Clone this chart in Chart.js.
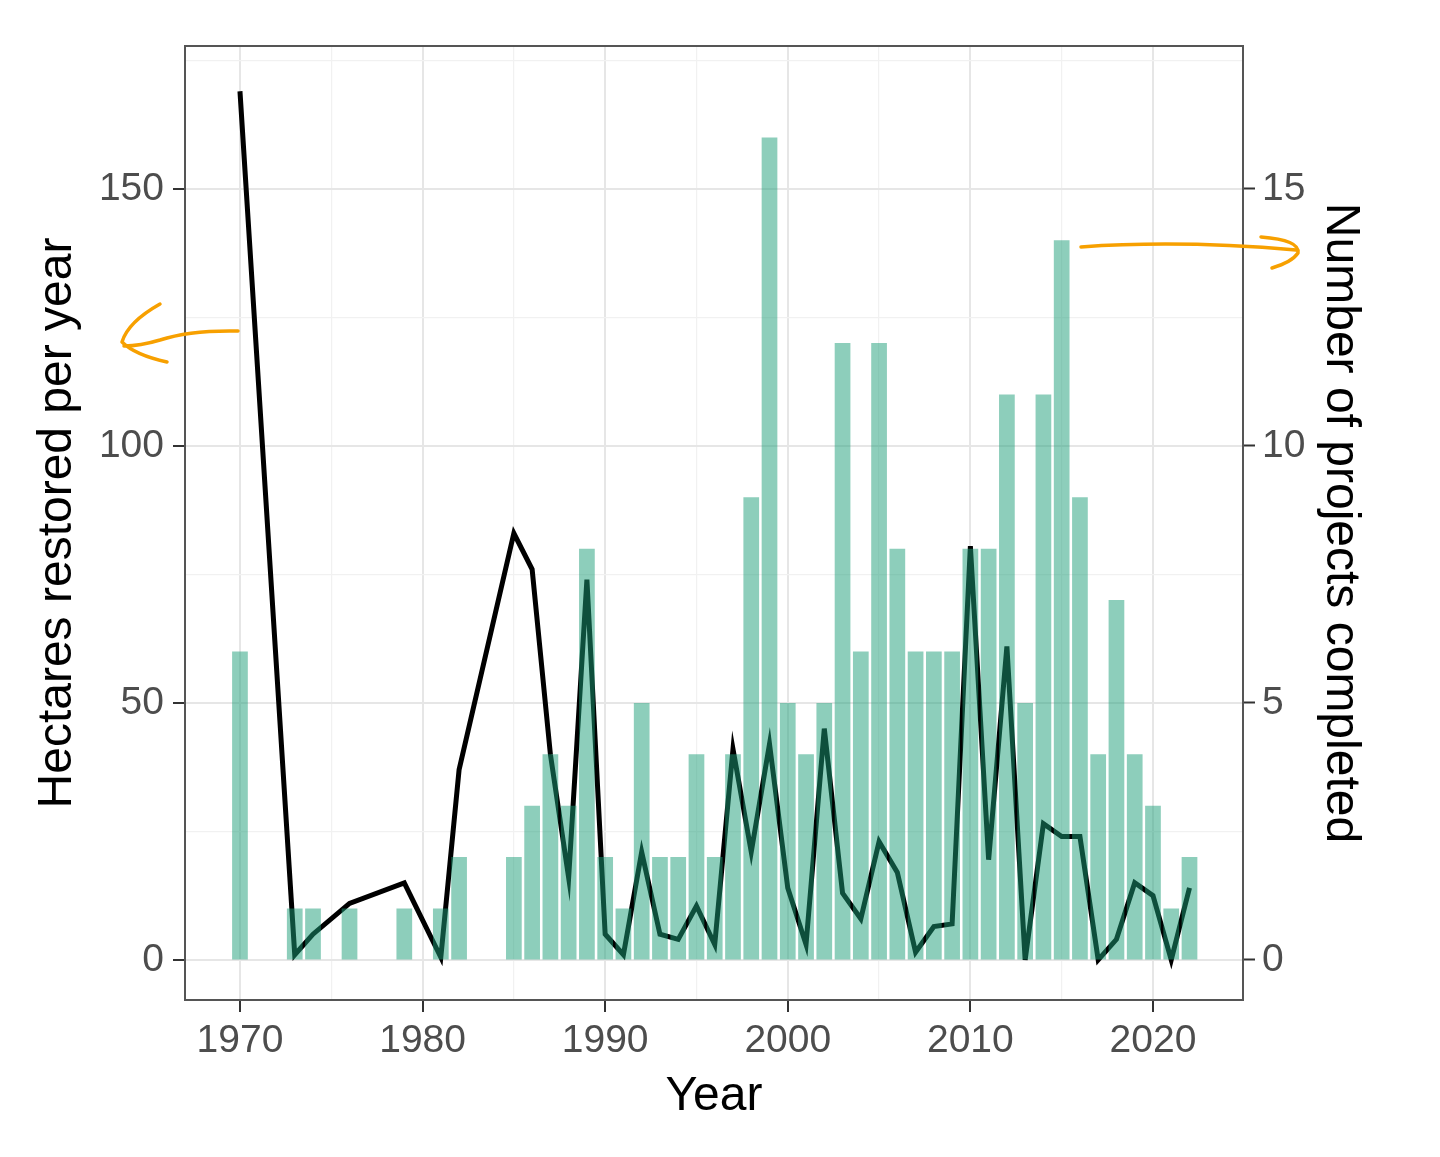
<!DOCTYPE html>
<html lang="en">
<head>
    <meta charset="UTF-8">
    <title>restoration by year</title>
    <style>
        body { margin: 0; background: #fff; }
        .chart_container { width: 1440px; height: 1157px; }
    </style>
</head>
<body>
    <div class="chart_container">
        <canvas class="restChart"></canvas>
    </div>

<script src="https://cdn.jsdelivr.net/npm/chart.js"></script>
<script>
    // one entry per year, 1970..2022
    const years = [];
    for (let y = 1970; y <= 2022; y++) years.push(y);

    // number of projects completed (right axis)
    const projects = [6,0,0,1,1,0,1,0,0,1, 0,1,2,0,0,2,3,4,3,8,
                      2,1,5,2,2,4,2,4,9,16, 5,4,5,12,6,12,8,6,6,6,
                      8,8,11,5,11,14,9,4,7,4, 3,1,2];

    // hectares restored per year (left axis), null = no value that year
    const hectares = [169,null,null,1,5,null,11,null,null,15, null,0.5,37,null,null,83,76,40,16,74,
                      5,1,21,5,4,10.5,3,41,21,42, 14,3,45,13,8,23,17,1.5,6.5,7,
                      80.5,19.5,61,0,26.5,24,24,0,4,15, 12.5,0,14];

    const xTicks = [1970,1975,1980,1985,1990,1995,2000,2005,2010,2015,2020];
    const leftTicks = [0,25,50,75,100,125,150,175];
    const rightTicks = [0,5,10,15];

    const barData = years.map((y, i) => ({x: y, y: projects[i]}));
    const lineData = years.map((y, i) => ({x: y, y: hectares[i]}));

    const tickFont = {family: 'Liberation Sans, Arial, sans-serif', size: 39};
    const titleFont = {family: 'Liberation Sans, Arial, sans-serif', size: 48};

    // panel border on top + hand drawn arrows
    const extras = {
        id: 'extras',
        afterDraw(chart) {
            const ctx = chart.ctx;
            const a = chart.chartArea;
            ctx.save();
            ctx.strokeStyle = '#555';
            ctx.lineWidth = 2;
            ctx.strokeRect(a.left, a.top, a.right - a.left, a.bottom - a.top);

            ctx.strokeStyle = '#F7A000';
            ctx.lineWidth = 3.5;
            ctx.lineCap = 'round';
            ctx.lineJoin = 'round';
            // left arrow
            ctx.beginPath();
            ctx.moveTo(238, 331);
            ctx.quadraticCurveTo(190, 330, 160, 340);
            ctx.quadraticCurveTo(140, 346, 124, 346);
            ctx.stroke();
            ctx.beginPath();
            ctx.moveTo(160, 304);
            ctx.quadraticCurveTo(128, 322, 122, 342);
            ctx.quadraticCurveTo(135, 355, 167, 362);
            ctx.stroke();
            // right arrow
            ctx.beginPath();
            ctx.moveTo(1081, 247);
            ctx.quadraticCurveTo(1180, 240, 1296, 250);
            ctx.stroke();
            ctx.beginPath();
            ctx.moveTo(1261, 237);
            ctx.quadraticCurveTo(1300, 240, 1298, 253);
            ctx.quadraticCurveTo(1292, 262, 1272, 268);
            ctx.stroke();
            ctx.restore();
        }
    };

    new Chart(document.querySelector('.restChart'), {
        type: 'bar',
        data: {
            datasets: [{
                type: 'bar',
                label: 'Number of projects completed',
                data: barData,
                xAxisID: 'x',
                yAxisID: 'y2',
                backgroundColor: 'rgba(27,158,119,0.5)',
                borderWidth: 0,
                barPercentage: 0.86,
                categoryPercentage: 1,
                order: 0
            }, {
                type: 'line',
                label: 'Hectares restored per year',
                data: lineData,
                xAxisID: 'x',
                yAxisID: 'y',
                borderColor: '#000',
                borderWidth: 5,
                pointRadius: 0,
                tension: 0,
                spanGaps: true,
                order: 1
            }]
        },
        options: {
            responsive: true,
            maintainAspectRatio: false,
            animation: false,
            layout: {padding: {top: 46, left: 0, right: 0, bottom: 0}},
            plugins: {legend: {display: false}, tooltip: {enabled: false}},
            scales: {
                x: {
                    type: 'linear',
                    position: 'bottom',
                    min: 1966.99,
                    max: 2024.93,
                    offset: false,
                    afterBuildTicks: s => { s.ticks = xTicks.map(v => ({value: v})); },
                    afterFit: s => { s.height = 157; },
                    ticks: {
                        color: '#4d4d4d',
                        font: tickFont,
                        padding: 6,
                        maxRotation: 0,
                        callback: v => (v % 10 === 0 ? String(v) : '')
                    },
                    grid: {
                        offset: false,
                        color: c => (c.tick && c.tick.value % 10 === 0 ? '#e6e6e6' : '#f1f1f1'),
                        lineWidth: c => (c.tick && c.tick.value % 10 === 0 ? 2 : 1.2),
                        tickColor: c => (c.tick && c.tick.value % 10 === 0 ? '#333' : 'rgba(0,0,0,0)'),
                        tickLength: 12,
                        tickWidth: 2
                    },
                    border: {display: true, color: '#555', width: 2},
                    title: {display: true, text: 'Year', color: '#000', font: titleFont, padding: {top: 0, bottom: 31}}
                },
                y: {
                    type: 'linear',
                    position: 'left',
                    min: -7.8,
                    max: 177.8,
                    afterBuildTicks: s => { s.ticks = leftTicks.map(v => ({value: v})); },
                    afterFit: s => { s.width = 185; },
                    ticks: {
                        color: '#4d4d4d',
                        font: tickFont,
                        padding: 9,
                        callback: v => (v % 50 === 0 ? String(v) : '')
                    },
                    grid: {
                        color: c => (c.tick && c.tick.value % 50 === 0 ? '#e6e6e6' : '#f1f1f1'),
                        lineWidth: c => (c.tick && c.tick.value % 50 === 0 ? 2 : 1.2),
                        tickColor: c => (c.tick && c.tick.value % 50 === 0 ? '#333' : 'rgba(0,0,0,0)'),
                        tickLength: 12,
                        tickWidth: 2
                    },
                    border: {display: true, color: '#555', width: 2},
                    title: {display: true, text: 'Hectares restored per year', color: '#000', font: titleFont, padding: {top: 29, bottom: 0}}
                },
                y2: {
                    type: 'linear',
                    position: 'right',
                    min: -0.78,
                    max: 17.78,
                    afterBuildTicks: s => { s.ticks = rightTicks.map(v => ({value: v})); },
                    afterFit: s => { s.width = 197; },
                    ticks: {
                        color: '#4d4d4d',
                        font: tickFont,
                        padding: 7,
                        callback: v => String(v)
                    },
                    grid: {
                        drawOnChartArea: false,
                        tickColor: '#333',
                        tickLength: 12,
                        tickWidth: 2
                    },
                    border: {display: true, color: '#555', width: 2},
                    title: {display: true, text: 'Number of projects completed', color: '#000', font: titleFont, padding: {top: 71, bottom: 0}}
                }
            }
        },
        plugins: [extras]
    });
</script>
</body>
</html>
